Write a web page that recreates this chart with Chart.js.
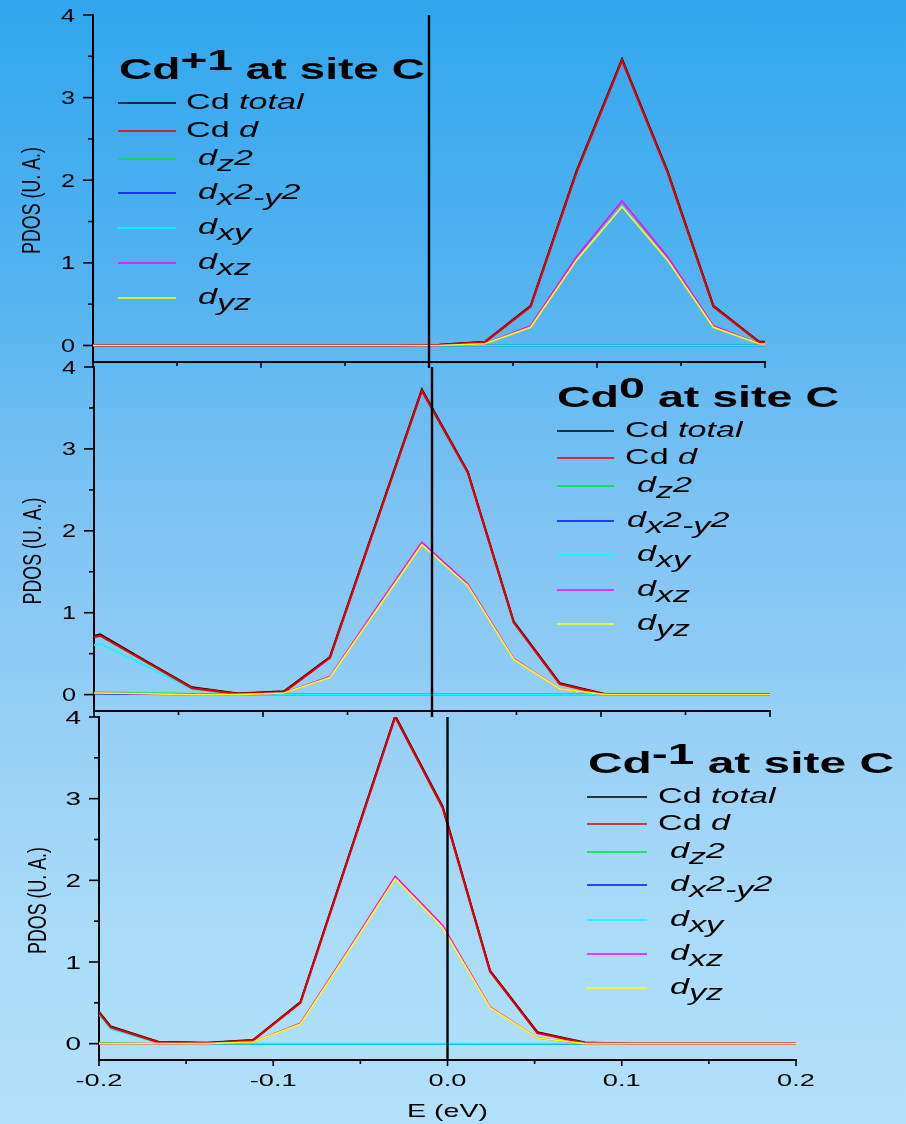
<!DOCTYPE html>
<html>
<head>
<meta charset="utf-8">
<title>PDOS of Cd at site C</title>
<script src="https://cdn.jsdelivr.net/npm/chart.js@4.4.1/dist/chart.umd.min.js"></script>
<style>
  html, body { margin: 0; padding: 0; }
  body {
    width: 906px; height: 1124px; overflow: hidden; position: relative;
    background: linear-gradient(to bottom, #31a7ee 0%, #52b3f0 25%, #7cc3f3 45%, #97d0f6 65%, #a9dbf8 82%, #b2e1f9 100%);
  }
  canvas { position: absolute; left: 0; top: 0; }
</style>
</head>
<body>
<canvas id="panelPlus" width="906" height="1124"></canvas>
<canvas id="panelZero" width="906" height="1124"></canvas>
<canvas id="panelMinus" width="906" height="1124"></canvas>
<script>
// ---------- data ----------
const fermiLevel = 0.0;

// Cd+1 at site C
const energyPlus = [-0.2115, -0.1843, -0.1571, -0.1299, -0.1027, -0.0755, -0.0483, -0.0211, 0.0061, 0.0333, 0.0605, 0.0877, 0.1149, 0.1421, 0.1693, 0.1965, 0.2237];
const totalPlus  = [0, 0, 0, 0, 0, 0, 0, 0, 0.008, 0.045, 0.48, 2.105, 3.465, 2.105, 0.48, 0.045, 0.035];
const dPlus      = [0, 0, 0, 0, 0, 0, 0, 0, 0.005, 0.04, 0.47, 2.09, 3.45, 2.09, 0.47, 0.04, 0.03];
const dz2Plus    = [0, 0, 0, 0, 0, 0, 0, 0, 0, 0, 0, 0, 0, 0, 0, 0, 0];
const dx2y2Plus  = [0, 0, 0, 0, 0, 0, 0, 0, 0, 0, 0, 0, 0, 0, 0, 0, 0];
const dxyPlus    = [0, 0, 0, 0, 0, 0, 0, 0, 0, 0, 0, 0, 0, 0, 0, 0, 0];
const dxzPlus    = [0, 0, 0, 0, 0, 0, 0, 0, 0, 0.02, 0.24, 1.07, 1.75, 1.07, 0.24, 0.02, 0.01];
const dyzPlus    = [0, 0, 0, 0, 0, 0, 0, 0, 0, 0.02, 0.22, 1.03, 1.68, 1.03, 0.22, 0.02, 0.01];

// Cd0 at site C
const energyZero = [-0.2236, -0.1964, -0.1692, -0.1420, -0.1148, -0.0876, -0.0604, -0.0332, -0.0060, 0.0212, 0.0484, 0.0756, 0.1028, 0.1300, 0.1572, 0.1844, 0.2116];
const totalZero  = [0.59, 0.735, 0.41, 0.09, 0.015, 0.04, 0.46, 2.095, 3.725, 2.72, 0.89, 0.14, 0.005, 0, 0, 0, 0];
const dZero      = [0.58, 0.72, 0.40, 0.08, 0.01, 0.03, 0.45, 2.08, 3.71, 2.71, 0.88, 0.13, 0, 0, 0, 0, 0];
const dz2Zero    = [0.03, 0.03, 0.02, 0.01, 0, 0, 0, 0, 0, 0, 0, 0, 0, 0, 0, 0, 0];
const dx2y2Zero  = [0.01, 0.01, 0.005, 0, 0, 0, 0, 0, 0, 0, 0, 0, 0, 0, 0, 0, 0];
const dxyZero    = [0.50, 0.62, 0.35, 0.07, 0, 0, 0, 0, 0, 0, 0, 0, 0, 0, 0, 0, 0];
const dxzZero    = [0.02, 0.02, 0.01, 0, 0, 0.02, 0.22, 1.05, 1.86, 1.35, 0.44, 0.07, 0, 0, 0, 0, 0];
const dyzZero    = [0.02, 0.02, 0.01, 0, 0, 0.02, 0.21, 1.02, 1.83, 1.33, 0.43, 0.07, 0, 0, 0, 0, 0];

// Cd-1 at site C
const energyMinus = [-0.2204, -0.1932, -0.1660, -0.1388, -0.1116, -0.0844, -0.0572, -0.0300, -0.0028, 0.0244, 0.0516, 0.0788, 0.1060, 0.1332, 0.1604, 0.1876, 0.2148];
const totalMinus  = [0.93, 0.21, 0.025, 0.01, 0.045, 0.51, 2.265, 4.015, 2.905, 0.895, 0.14, 0.015, 0, 0, 0, 0, 0];
const dMinus      = [0.92, 0.20, 0.02, 0.005, 0.04, 0.50, 2.25, 4.00, 2.89, 0.885, 0.13, 0.01, 0, 0, 0, 0, 0];
const dz2Minus    = [0.02, 0.01, 0, 0, 0, 0, 0, 0, 0, 0, 0, 0, 0, 0, 0, 0, 0];
const dx2y2Minus  = [0, 0, 0, 0, 0, 0, 0, 0, 0, 0, 0, 0, 0, 0, 0, 0, 0];
const dxyMinus    = [0.88, 0.18, 0.01, 0, 0, 0, 0, 0, 0, 0, 0, 0, 0, 0, 0, 0, 0];
const dxzMinus    = [0, 0, 0, 0, 0.02, 0.25, 1.14, 2.05, 1.45, 0.45, 0.07, 0, 0, 0, 0, 0, 0];
const dyzMinus    = [0, 0, 0, 0, 0.02, 0.24, 1.12, 2.02, 1.42, 0.44, 0.07, 0, 0, 0, 0, 0, 0];

// axis ticks and labels
const xMajorTicks = [-0.2, -0.1, 0.0, 0.1, 0.2];
const xMinorTicks = [-0.15, -0.05, 0.05, 0.15];
const xTickLabels = ['-0.2', '-0.1', '0.0', '0.1', '0.2'];
const yMajorTicks = [0, 1, 2, 3, 4];
const yMinorTicks = [0.5, 1.5, 2.5, 3.5];
const yTickLabels = ['0', '1', '2', '3', '4'];
const yAxisTitle = 'PDOS (U. A.)';
const xAxisTitle = 'E (eV)';

// legend text: *..* italic, _{..} subscript
const seriesLabels = ['Cd *total*', 'Cd *d*', '*d_{z}2*', '*d_{x}2_{-y}2*', '*d_{xy}*', '*d_{xz}*', '*d_{yz}*'];
const panelTitles = ['Cd^{+1} at site C', 'Cd^{0} at site C', 'Cd^{-1} at site C'];

// ---------- drawing helpers ----------
const FONT = '"Liberation Sans", Arial, Helvetica, sans-serif';
const seriesColors = ['#000000', '#e40000', '#00e040', '#0010ff', '#00ffff', '#ff00ff', '#ffff00'];
const seriesWidths = [2.0, 2.2, 1.5, 1.5, 1.6, 1.6, 1.6];

function parseRich(s) {
  const parts = [];
  let italic = false, mode = 'n', buf = '';
  const flush = () => { if (buf) { parts.push({ t: buf, italic, mode }); buf = ''; } };
  for (let i = 0; i < s.length; i++) {
    const c = s[i];
    if (c === '*') { flush(); italic = !italic; continue; }
    if ((c === '_' || c === '^') && s[i + 1] === '{') { flush(); mode = c === '_' ? 'sub' : 'sup'; i++; continue; }
    if (c === '}' && mode !== 'n') { flush(); mode = 'n'; continue; }
    buf += c;
  }
  flush();
  return parts;
}

function fontFor(p, st) {
  return (p.italic ? 'italic ' : '') + (st.weight || 'normal') + ' ' + st.size + 'px ' + FONT;
}

function richWidth(ctx, parts, st) {
  let w = 0;
  for (const p of parts) { ctx.font = fontFor(p, st); w += ctx.measureText(p.t).width; }
  return w;
}

// draws text pieces stretched horizontally by sx
function drawRich(ctx, parts, x, y, st) {
  let sx = st.sx || 1;
  if (st.fitWidth) sx = st.fitWidth / richWidth(ctx, parts, st);
  let cx = x;
  ctx.textBaseline = 'alphabetic';
  ctx.textAlign = 'left';
  for (const p of parts) {
    const dy = p.mode === 'sub' ? st.subDy : (p.mode === 'sup' ? -st.supDy : 0);
    ctx.font = fontFor(p, st);
    const w = ctx.measureText(p.t).width;
    ctx.save();
    ctx.translate(cx, y + dy);
    ctx.scale(sx, 1);
    ctx.fillText(p.t, 0, 0);
    ctx.restore();
    cx += w * sx;
  }
  return cx - x;
}

function drawStretched(ctx, text, x, y, size, sx, align) {
  ctx.font = 'normal ' + size + 'px ' + FONT;
  ctx.textBaseline = 'alphabetic';
  ctx.textAlign = 'left';
  const w = ctx.measureText(text).width * sx;
  const x0 = align === 'center' ? x - w / 2 : (align === 'right' ? x - w : x);
  ctx.save();
  ctx.translate(x0, y);
  ctx.scale(sx, 1);
  ctx.fillText(text, 0, 0);
  ctx.restore();
}

// axes decoration, titles and legend for one panel
const panelDecor = {
  id: 'panelDecor',
  afterDraw(chart, args, o) {
    const { ctx, chartArea: a } = chart;
    const xs = chart.scales.x, ys = chart.scales.y;
    ctx.save();
    ctx.strokeStyle = '#000';
    ctx.fillStyle = '#000';
    ctx.lineWidth = 1.6;
    ctx.lineCap = 'butt';
    const tick = (x1, y1, x2, y2) => { ctx.beginPath(); ctx.moveTo(x1, y1); ctx.lineTo(x2, y2); ctx.stroke(); };
    yMajorTicks.forEach(v => { const p = ys.getPixelForValue(v); tick(a.left - 10, p, a.left, p); });
    yMinorTicks.forEach(v => { const p = ys.getPixelForValue(v); tick(a.left - 5, p, a.left, p); });
    xMajorTicks.forEach(v => { const p = xs.getPixelForValue(v); tick(p, a.bottom, p, a.bottom + 6); });
    xMinorTicks.forEach(v => { const p = xs.getPixelForValue(v); tick(p, a.bottom, p, a.bottom + 4); });
    // y tick labels
    yMajorTicks.forEach((v, i) => {
      const p = ys.getPixelForValue(v);
      drawStretched(ctx, yTickLabels[i], a.left - 18, p + 6.5, 18, o.yLabelSx, 'right');
    });
    // x tick labels and axis title (bottom panel only)
    if (o.showX) {
      xMajorTicks.forEach((v, i) => {
        const p = xs.getPixelForValue(v);
        drawStretched(ctx, xTickLabels[i], p, a.bottom + 26, 16, 1.7, 'center');
      });
      drawStretched(ctx, xAxisTitle, (a.left + a.right) / 2, a.bottom + 57, 19, 1.5, 'center');
    }
    // y axis title
    ctx.save();
    ctx.translate(a.left - 62, (a.top + a.bottom) / 2 + 12);
    ctx.rotate(-Math.PI / 2);
    ctx.font = 'normal 26px ' + FONT;
    const natural = ctx.measureText(yAxisTitle).width;
    drawStretched(ctx, yAxisTitle, 0, 9, 26, 107 / natural, 'center');
    ctx.restore();
    // panel title
    drawRich(ctx, parseRich(o.title), o.titleX, o.titleY, { size: 29, weight: 'bold', fitWidth: o.titleWidth, supDy: 9, subDy: 0 });
    // legend
    o.rows.forEach((ry, i) => {
      ctx.strokeStyle = seriesColors[i];
      ctx.lineWidth = 1.4;
      tick(o.lineX0, ry, o.lineX1, ry);
      drawRich(ctx, parseRich(seriesLabels[i]), o.textX + o.indents[i], ry + 6, { size: 22, sx: 1.55, subDy: 6, supDy: 0 });
    });
    ctx.restore();
  }
};

function buildDatasets(energy, series, fermiClipBottom) {
  const pts = vals => energy.map((e, i) => ({ x: e, y: vals[i] }));
  // index 0 is drawn last (on top)
  const ds = [{
    label: 'E_F',
    data: [{ x: fermiLevel, y: -0.3 }, { x: fermiLevel, y: 4 }],
    borderColor: '#000', borderWidth: 2.4,
    clip: { left: 2, right: 2, top: 0, bottom: fermiClipBottom }
  }];
  const topFirst = [6, 5, 1, 0, 4, 3, 2]; // dyz, dxz, Cd d, total, dxy, dx2-y2, dz2
  topFirst.forEach(k => {
    ds.push({
      label: seriesLabels[k],
      data: pts(series[k]),
      borderColor: seriesColors[k],
      borderWidth: seriesWidths[k]
    });
  });
  return ds;
}

function makePanel(canvasId, box, energy, series, decor) {
  const H = 1124, W = 906;
  return new Chart(document.getElementById(canvasId), {
    type: 'line',
    data: { datasets: buildDatasets(energy, series, box.fermiClipBottom) },
    options: {
      responsive: false,
      animation: false,
      devicePixelRatio: 1,
      layout: { padding: { left: 0, top: box.top, right: W - box.right, bottom: H - box.bottom } },
      elements: { point: { radius: 0, hoverRadius: 0 }, line: { tension: 0, borderJoinStyle: 'miter' } },
      plugins: { legend: { display: false }, tooltip: { enabled: false }, title: { display: false }, panelDecor: decor },
      events: [],
      scales: {
        x: {
          type: 'linear', position: 'bottom', min: -0.2, max: 0.2,
          ticks: { display: false },
          grid: { display: true, drawOnChartArea: false, drawTicks: false },
          border: { display: true, color: '#000', width: 2 },
          afterFit(s) { s.height = 0; }
        },
        y: {
          type: 'linear', position: 'left', min: -0.2, max: 4,
          ticks: { display: false },
          grid: { display: true, drawOnChartArea: false, drawTicks: false },
          border: { display: true, color: '#000', width: 2 },
          afterFit(s) { s.width = box.left; }
        }
      }
    },
    plugins: [panelDecor]
  });
}

makePanel('panelPlus',
  { left: 93, right: 765, top: 15, bottom: 362, fermiClipBottom: 6 },
  energyPlus, [totalPlus, dPlus, dz2Plus, dx2y2Plus, dxyPlus, dxzPlus, dyzPlus],
  { title: panelTitles[0], titleX: 119, titleY: 79, titleWidth: 306,
    lineX0: 118, lineX1: 176, textX: 186, indents: [0, 0, 12, 12, 12, 12, 12],
    rows: [103, 131, 159, 193, 228, 263, 298], yLabelSx: 1.4, showX: false });

makePanel('panelZero',
  { left: 94, right: 770, top: 367, bottom: 711, fermiClipBottom: 6 },
  energyZero, [totalZero, dZero, dz2Zero, dx2y2Zero, dxyZero, dxzZero, dyzZero],
  { title: panelTitles[1], titleX: 557, titleY: 407, titleWidth: 282,
    lineX0: 557, lineX1: 614, textX: 625, indents: [0, 0, 12, 2, 12, 12, 12],
    rows: [431, 458, 486, 521, 555, 590, 624], yLabelSx: 1.4, showX: false });

makePanel('panelMinus',
  { left: 99, right: 796, top: 717, bottom: 1060, fermiClipBottom: 0 },
  energyMinus, [totalMinus, dMinus, dz2Minus, dx2y2Minus, dxyMinus, dxzMinus, dyzMinus],
  { title: panelTitles[2], titleX: 588, titleY: 773, titleWidth: 306,
    lineX0: 587, lineX1: 647, textX: 658, indents: [0, 0, 12, 12, 12, 12, 12],
    rows: [797, 824, 852, 885, 920, 954, 988], yLabelSx: 1.55, showX: true });
</script>
</body>
</html>
